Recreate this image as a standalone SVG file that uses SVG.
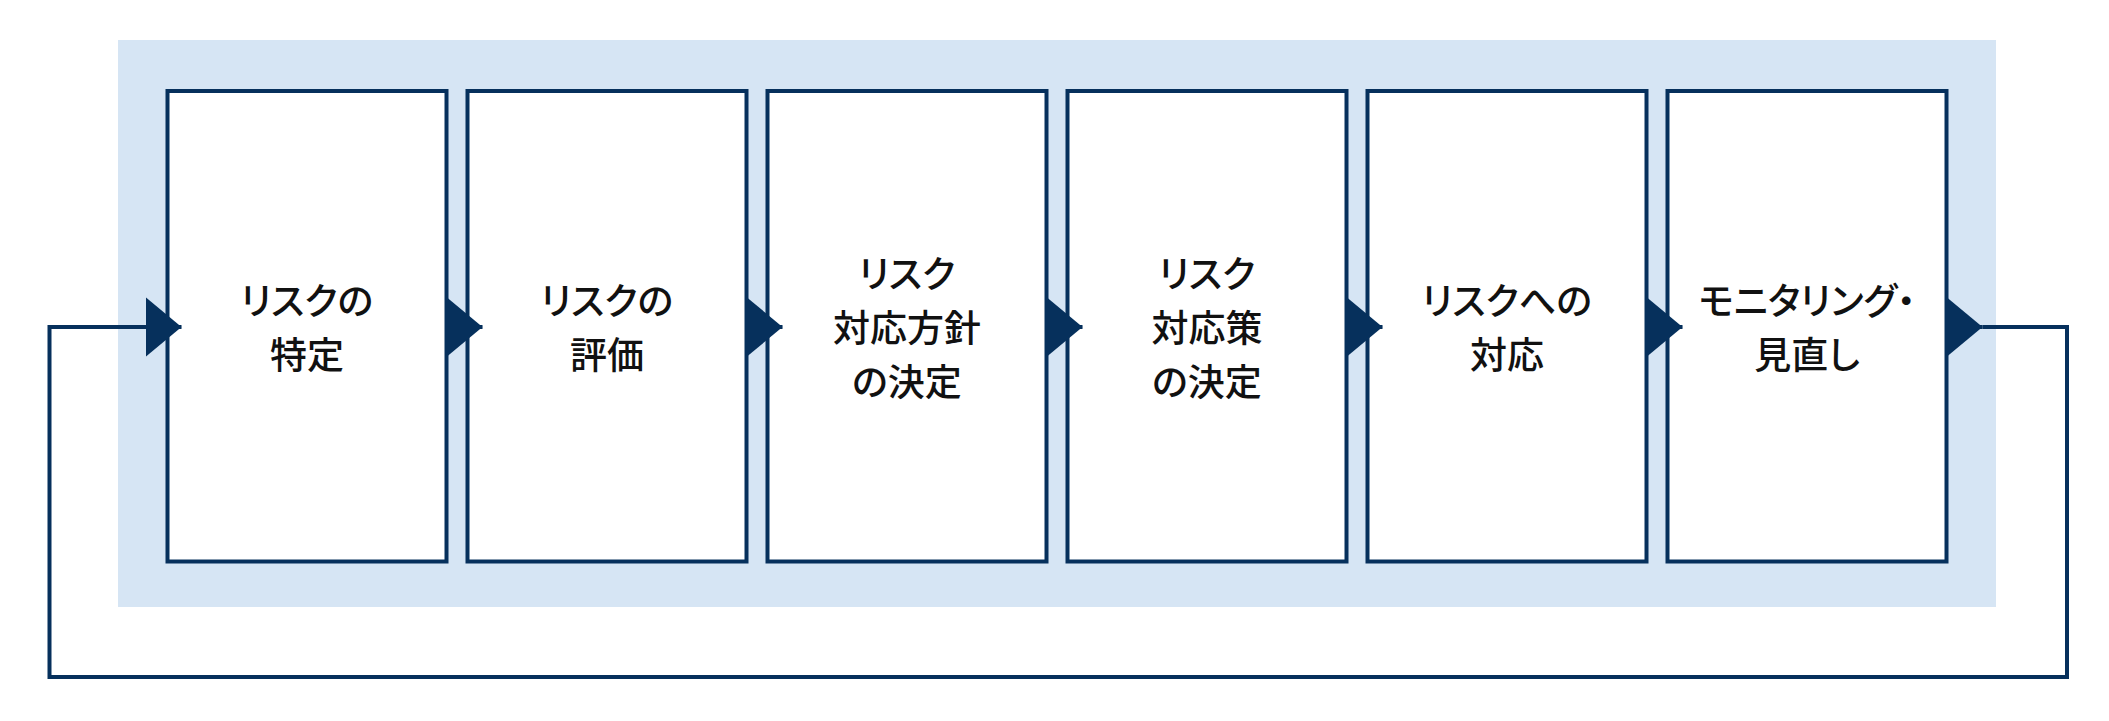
<svg xmlns="http://www.w3.org/2000/svg" width="2109" height="721" viewBox="0 0 2109 721">
<style>
.bg{fill:#d6e5f4}
.box{fill:#ffffff;stroke:#06305c;stroke-width:4}
.lbl{font-family:"Noto Sans CJK JP","Noto Sans",sans-serif;font-size:37px;font-weight:500;fill:#111111;text-anchor:middle;font-feature-settings:"palt" 1}
.conn{fill:none;stroke:#06305c;stroke-width:4}
</style>
<defs>
<marker id="ah" viewBox="0 0 36 60" refX="36" refY="30" markerWidth="36" markerHeight="60" markerUnits="userSpaceOnUse" orient="auto">
<path d="M0,0 L36,30 L0,60 Z" fill="#06305c"/>
</marker>
</defs>
<rect class="bg" x="118" y="40" width="1878" height="567"/>
<g id="node1"><rect class="box" x="167.5" y="91" width="279" height="470.5"/>
<text class="lbl" x="307" y="315">リスクの</text><text class="lbl" x="307" y="369">特定</text></g>
<g id="node2"><rect class="box" x="467.5" y="91" width="279" height="470.5"/>
<text class="lbl" x="607" y="315">リスクの</text><text class="lbl" x="607" y="369">評価</text></g>
<g id="node3"><rect class="box" x="767.5" y="91" width="279" height="470.5"/>
<text class="lbl" x="907" y="288">リスク</text><text class="lbl" x="907" y="342">対応方針</text><text class="lbl" x="907" y="396">の決定</text></g>
<g id="node4"><rect class="box" x="1067.5" y="91" width="279" height="470.5"/>
<text class="lbl" x="1207" y="288">リスク</text><text class="lbl" x="1207" y="342">対応策</text><text class="lbl" x="1207" y="396">の決定</text></g>
<g id="node5"><rect class="box" x="1367.5" y="91" width="279" height="470.5"/>
<text class="lbl" x="1507" y="315">リスクへの</text><text class="lbl" x="1507" y="369">対応</text></g>
<g id="node6"><rect class="box" x="1667.5" y="91" width="279" height="470.5"/>
<text class="lbl" x="1807" y="315">モニタリング・</text><text class="lbl" x="1807" y="369">見直し</text></g>
<g id="connectors">
<path class="conn" d="M446.5,327 L482.5,327" marker-end="url(#ah)"/>
<path class="conn" d="M746.5,327 L782.5,327" marker-end="url(#ah)"/>
<path class="conn" d="M1046.5,327 L1082.5,327" marker-end="url(#ah)"/>
<path class="conn" d="M1346.5,327 L1382.5,327" marker-end="url(#ah)"/>
<path class="conn" d="M1646.5,327 L1682.5,327" marker-end="url(#ah)"/>
<path class="conn" d="M1946.5,327 L1982.5,327" marker-end="url(#ah)"/>
<path class="conn" d="M1982.5,327 L2067,327 L2067,677 L49.5,677 L49.5,327 L181.5,327" marker-end="url(#ah)"/>
</g>
</svg>
